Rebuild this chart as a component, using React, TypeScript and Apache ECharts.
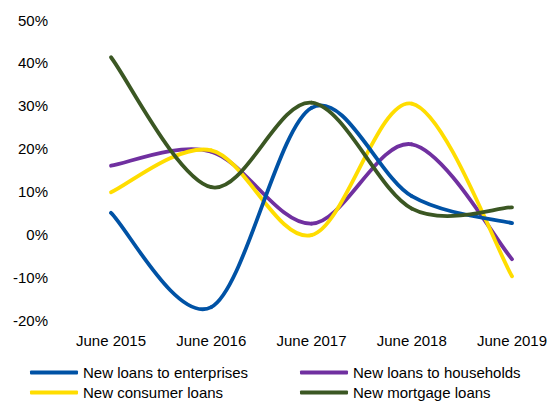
import React, { useEffect, useRef } from "react";
import * as echarts from "echarts";

const categories = ["June 2015", "June 2016", "June 2017", "June 2018", "June 2019"];
const enterprises = [5, -17, 29.5, 8.9, 2.6];
const households = [16, 19.3, 2.5, 21, -5.8];
const consumer = [9.8, 19.6, -0.2, 30.5, -9.8];
const mortgage = [41.3, 11, 30.7, 6, 6.3];

const names = [
  "New loans to enterprises",
  "New loans to households",
  "New consumer loans",
  "New mortgage loans",
];
const colors = ["#0052A5", "#7030A0", "#FFDD00", "#3B5723"];

const FONT = "'Liberation Sans', Arial, sans-serif";

function makeRenderItem(values: number[], color: string) {
  return (params: any, api: any) => {
    const i = params.dataIndex;
    const n = values.length;
    if (i >= n - 1) return null;
    const pt = (k: number) => {
      const kk = Math.max(0, Math.min(n - 1, k));
      return api.coord([kk, values[kk]]);
    };
    const p0 = pt(i - 1);
    const p1 = pt(i);
    const p2 = pt(i + 1);
    const p3 = pt(i + 2);
    const c1 = [p1[0] + (p2[0] - p0[0]) / 6, p1[1] + (p2[1] - p0[1]) / 6];
    const c2 = [p2[0] - (p3[0] - p1[0]) / 6, p2[1] - (p3[1] - p1[1]) / 6];
    return {
      type: "bezierCurve",
      shape: {
        x1: p1[0], y1: p1[1],
        cpx1: c1[0], cpy1: c1[1],
        cpx2: c2[0], cpy2: c2[1],
        x2: p2[0], y2: p2[1],
      },
      style: { stroke: color, lineWidth: 3.8, fill: "none", lineCap: "round" },
    };
  };
}

export default function App() {
  const ref = useRef<HTMLDivElement>(null);
  useEffect(() => {
    if (!ref.current) return;
    const chart = echarts.init(ref.current, undefined, { renderer: "svg" });
    const data = [enterprises, households, consumer, mortgage];
    const legendCommon = {
      orient: "vertical",
      icon: "roundRect",
      itemWidth: 48,
      itemHeight: 4,
      itemGap: 3,
      padding: 0,
      height: 80,
      textStyle: { color: "#000", fontSize: 15, fontFamily: FONT, lineHeight: 17 },
    };
    chart.setOption({
      animation: false,
      backgroundColor: "#fff",
      grid: { left: 111, right: 43, top: 20, bottom: 81, containLabel: false },
      legend: [
        { ...legendCommon, left: 30, top: 364, data: [names[0], names[2]] },
        { ...legendCommon, left: 300, top: 364, data: [names[1], names[3]] },
      ],
      xAxis: {
        type: "category",
        data: categories,
        boundaryGap: false,
        axisLine: { show: false },
        axisTick: { show: false },
        axisLabel: { color: "#000", fontSize: 15, fontFamily: FONT, margin: 13 },
      },
      yAxis: {
        type: "value",
        min: -20,
        max: 50,
        interval: 10,
        splitLine: { show: false },
        axisLine: { show: false },
        axisTick: { show: false },
        axisLabel: {
          color: "#000",
          fontSize: 15,
          fontFamily: FONT,
          margin: 63,
          formatter: "{value}%",
        },
      },
      series: data.map((d, i) => ({
        name: names[i],
        type: "custom",
        data: d.map((v, k) => [k, v]),
        encode: { x: 0, y: 1 },
        renderItem: makeRenderItem(d, colors[i]),
        itemStyle: { color: colors[i] },
        clip: false,
        z: i === 3 ? 4 : i === 0 ? 3 : 2,
      })),
    });
    return () => chart.dispose();
  }, []);
  return <div ref={ref} style={{ width: 555, height: 401, position: "absolute", left: 0, top: 0 }} />;
}
